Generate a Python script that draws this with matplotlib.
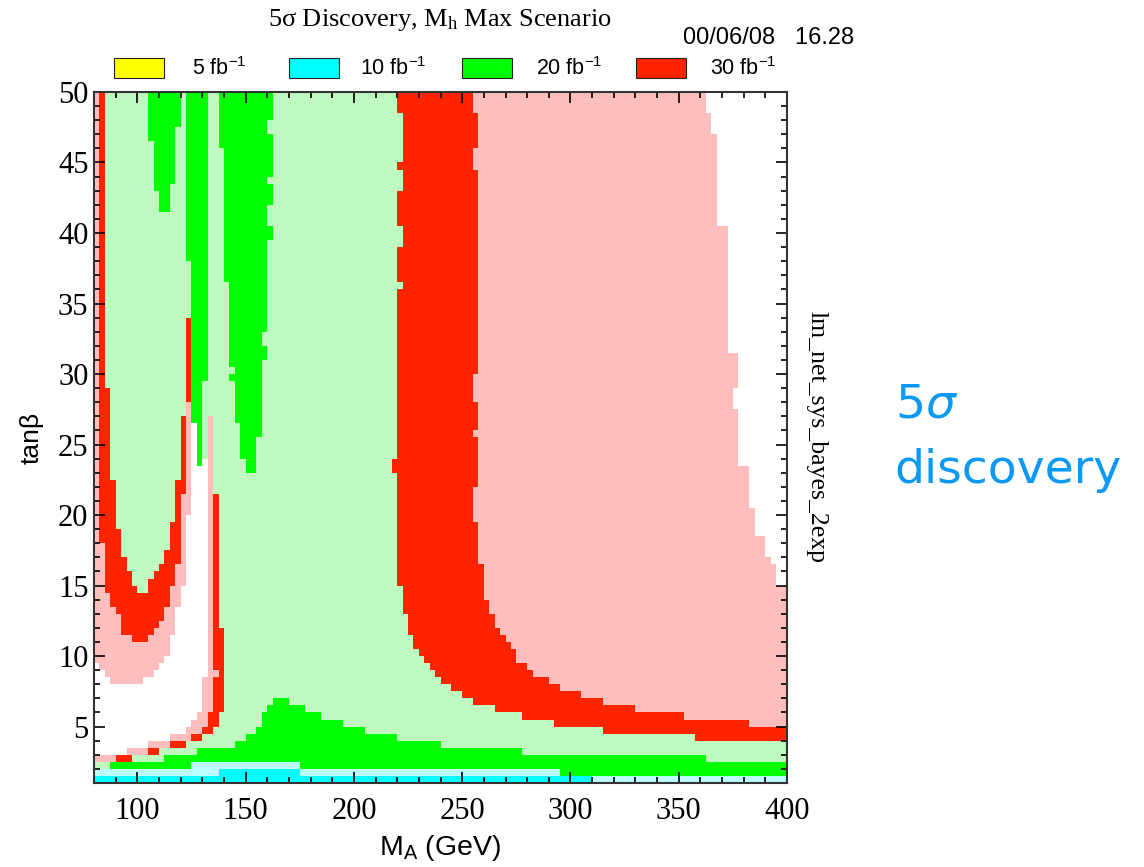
import numpy as np
import matplotlib
matplotlib.use("Agg")
import matplotlib.pyplot as plt
from matplotlib.patches import Rectangle
from matplotlib.ticker import MultipleLocator

# colours of the luminosity levels
YELLOW = "#ffff00"
CYAN = "#00ffff"
LCYAN = "#bbffff"
GREEN = "#00ff00"
LGREEN = "#bff9bf"
RED = "#ff2400"
PINK = "#ffbebe"
WHITE = "#ffffff"

legend_labels = ["5 fb$\\mathregular{^{-1}}$", "10 fb$\\mathregular{^{-1}}$",
                 "20 fb$\\mathregular{^{-1}}$", "30 fb$\\mathregular{^{-1}}$"]
legend_colors = [YELLOW, CYAN, GREEN, RED]

# ---- low tanb rows (cyan / light cyan) ----
lcyan_x = [80, 125, 175, 295, 400]
lcyan_top = [2.0, 2.5, 2.0, 1.5]
cyan_x = [80, 137.5, 175, 310, 400]
cyan_top = [1.5, 2.0, 1.5, 1.0]

# ---- green band at low tanb ----
green_x = [87.5, 112.5, 125, 127.5, 145, 150, 155, 157.5, 160, 162.5, 170, 175,
           177.5, 185, 195, 205, 220, 240, 277.5, 295, 362.5, 400]
green_lo = [2, 2, 2.5, 2.5, 2.5, 2.5, 2.5, 2.5, 2.5, 2.5, 2.5, 2, 2, 2, 2, 2, 2,
            2, 2, 1.5, 1.5]
green_hi = [2.5, 3, 3, 3.5, 4, 4.5, 5, 6, 6.5, 7, 6.5, 6.5, 6, 5.5, 5, 4.5, 4,
            3.5, 3, 3, 2.5]

# ---- low mass region, one value per 2.5 GeV bin from 80 to 140 ----
u_x = np.arange(80, 140.1, 2.5)
u_red_lo = [2.5, 2.5, 2.5, 2.5, 2.5, 2.5, 2.5, 3, 3, 3, 3, 3, 3.5, 3.5, 3.5, 3.5,
            3.5, 4, 4, 4, 4.5, 4.5, 5, 6]
u_red_hi = [2.5, 50, 29, 22.5, 19, 17, 16, 15, 14.5, 14.5, 15.5, 16, 16.5, 17.5,
            19.5, 22.5, 27, 34, 26.5, 23.5, 24, 27, 21.5, 12]
u_pink_lo = [2.5, 2.5, 2.5, 2.5, 3, 3, 3, 3, 3, 3, 3.5, 3.5, 3.5, 3.5, 4, 4, 4,
             4, 4.5, 4.5, 5, 6, 8.5, 6]
u_pink_hi = [50, 18, 14.5, 13.5, 13, 11.5, 11.5, 11, 11, 11, 11.5, 12, 12.5,
             13.5, 15, 16.5, 21.5, 28, 26.5, 23.5, 24, 27, 9, 6]
u_white_lo = [3, 3, 3, 3, 3, 3, 3.5, 3.5, 3.5, 3.5, 4, 4, 4, 4, 4.5, 4.5, 4.5,
              5, 5.5, 6, 8.5, 0, 0, 0]
u_white_hi = [9.5, 9, 8.5, 8, 8, 8, 8, 8, 8, 8.5, 8.5, 9, 9.5, 10, 11.5, 13.5,
              15, 20, 26.5, 23.5, 24, 0, 0, 0]

# ---- 30 fb-1 band at high mass ----
band_x = [220, 222.5, 225, 227.5, 230, 232.5, 235, 237.5, 240, 245, 250, 255,
          257.5, 260, 262.5, 265, 267.5, 270, 272.5, 275, 277.5, 280, 282.5,
          290, 292.5, 295, 305, 315, 330, 352.5, 357.5, 382.5, 400]
band_lo = [15, 13, 11.5, 10.5, 10, 9.5, 9, 8.5, 8, 7.5, 7, 6.5, 6.5, 6.5, 6.5,
           6, 6, 6, 6, 6, 5.5, 5.5, 5.5, 5.5, 5, 5, 5, 4.5, 4.5, 4.5, 4, 4]
band_hi = [16.5] * 12 + [16.5, 14, 13, 12, 11.5, 11, 10.5, 9.5, 9.5, 9, 8.5, 8,
                         8, 7.5, 7, 6.5, 6, 5.5, 5.5, 5]

# vertical part of the band, per tanb row
vband_y = [15, 19.5, 22, 23, 24, 25.5, 26, 28, 30, 36, 36.5, 39, 40.5, 43, 44.5,
           45, 46, 48.5, 50]
vband_left = [220, 220, 220, 217.5, 220, 220, 220, 220, 220, 222.5, 220, 222.5,
              220, 222.5, 220, 222.5, 222.5, 220]
vband_right = [257.5, 255, 257.5, 257.5, 257.5, 255, 257.5, 255, 257.5, 257.5,
               257.5, 257.5, 257.5, 257.5, 255, 255, 257.5, 255]

# no discovery at high mass, high tanb
nodisc_y = [15, 16.5, 17, 18.5, 20.5, 23.5, 27.5, 29, 31.5, 40.5, 47, 48.5, 50]
nodisc_left = [395, 392.5, 390, 385, 382.5, 377.5, 375, 377.5, 372.5, 367.5, 365,
               362.5]

# ---- 20 fb-1 spikes at high tanb ----
spike1_y = [41.5, 43, 43.5, 46.5, 47.5, 50]
spike1_l = [110, 107.5, 107.5, 105, 105]
spike1_r = [115, 115, 117.5, 117.5, 120]
spike2_y = [23.5, 26.5, 29.5, 38, 50]
spike2_l = [127.5, 125, 125, 122.5]
spike2_r = [130, 130, 132.5, 132.5]
spike3_y = [23, 24, 24.5, 25.5, 26.5, 29.5, 30, 30.5, 31, 32, 33, 36.5, 39.5,
            40.5, 42, 43.5, 44, 46, 47, 48, 50]
spike3_l = [150, 147.5, 147.5, 147.5, 145, 142.5, 145, 142.5, 142.5, 142.5, 142.5,
            140, 140, 140, 140, 140, 140, 137.5, 137.5, 137.5]
spike3_r = [155, 155, 155, 157.5, 157.5, 157.5, 157.5, 157.5, 160, 157.5, 160,
            160, 162.5, 160, 162.5, 160, 162.5, 162.5, 160, 162.5]


def fill_x(ax, x, lo, hi, color):
    lo = np.broadcast_to(np.asarray(lo, float), (len(x) - 1,))
    hi = np.broadcast_to(np.asarray(hi, float), (len(x) - 1,))
    ax.fill_between(x, np.append(lo, lo[-1]), np.append(hi, hi[-1]), step="post",
                    color=color, lw=0, antialiased=False)


def fill_y(ax, y, left, right, color):
    left = np.broadcast_to(np.asarray(left, float), (len(y) - 1,))
    right = np.broadcast_to(np.asarray(right, float), (len(y) - 1,))
    ax.fill_betweenx(y, np.append(left, left[-1]), np.append(right, right[-1]),
                     step="post", color=color, lw=0, antialiased=False)


SERIF = "Liberation Serif"
SANS = "Liberation Sans"

fig = plt.figure(figsize=(11.44, 8.67), dpi=100)
ax = fig.add_axes([0.0822, 0.0969, 0.6058, 0.797])
ax.set_xlim(80, 400)
ax.set_ylim(1, 50)
ax.set_facecolor(LGREEN)

fill_x(ax, lcyan_x, 1, lcyan_top, LCYAN)
fill_x(ax, cyan_x, 1, cyan_top, CYAN)
fill_x(ax, green_x, green_lo, green_hi, GREEN)

fill_x(ax, u_x, u_red_lo, u_red_hi, RED)
fill_x(ax, u_x, u_pink_lo, u_pink_hi, PINK)
fill_x(ax, u_x, u_white_lo, u_white_hi, WHITE)

fill_x(ax, band_x[11:], band_lo[11:], 50, PINK)
fill_x(ax, band_x, band_lo, band_hi, RED)
fill_y(ax, vband_y, vband_left, vband_right, RED)
fill_y(ax, nodisc_y, nodisc_left, 400, WHITE)

fill_y(ax, spike1_y, spike1_l, spike1_r, GREEN)
fill_y(ax, spike2_y, spike2_l, spike2_r, GREEN)
fill_y(ax, spike3_y, spike3_l, spike3_r, GREEN)

ax.set_xticks([100, 150, 200, 250, 300, 350, 400])
ax.xaxis.set_minor_locator(MultipleLocator(10))
ax.set_yticks([5, 10, 15, 20, 25, 30, 35, 40, 45, 50])
ax.yaxis.set_minor_locator(MultipleLocator(1))
ax.tick_params(which="both", direction="in", top=True, right=True, width=1.2,
               color="black", labelsize=22)
ax.tick_params(which="major", length=8)
ax.tick_params(which="minor", length=4.5)
for lab in ax.get_xticklabels() + ax.get_yticklabels():
    lab.set_family(SERIF)
ax.tick_params(axis="x", pad=10)
ax.tick_params(axis="y", pad=4)
for s in ax.spines.values():
    s.set_linewidth(1.5)
    s.set_color("#333333")
    s.set_zorder(5)
ax.set_axisbelow(False)

ax.set_xlabel("M$\\mathregular{_A}$ (GeV)", family=SANS, fontsize=20.5, labelpad=5)
ax.set_ylabel("tanβ", family=SANS, fontsize=19, labelpad=10)

fig.text(0.385, 0.977, "5σ Discovery, M$\\mathregular{_h}$ Max Scenario",
         family=SERIF, fontsize=19, ha="center", va="center")
fig.text(0.597, 0.956, "00/06/08   16.28", family=SANS, fontsize=17,
         ha="left", va="center")

box_x = [114, 289, 462, 636]
text_x = [192, 360, 536, 710]
for bx, tx, col, lab in zip(box_x, text_x, legend_colors, legend_labels):
    fig.patches.append(Rectangle((bx / 1144, 1 - 78 / 867), 50 / 1144, 20 / 867,
                                 transform=fig.transFigure, facecolor=col,
                                 edgecolor="#222222", lw=0.8))
    fig.text(tx / 1144, 1 - 69 / 867, lab, family=SANS, fontsize=15.5,
             ha="left", va="center")

fig.text(0.714, 0.496, "lm_net_sys_bayes_2exp", family=SERIF, fontsize=18.5,
         rotation=-90, ha="center", va="center")

fig.text(0.782, 0.519, "5$\\sigma$", family="DejaVu Sans", fontsize=34,
         color="#0a99f7", ha="left", va="baseline")
fig.text(0.782, 0.443, "discovery", family="DejaVu Sans", fontsize=34,
         color="#0a99f7", ha="left", va="baseline")

fig.savefig("out.png", dpi=100)
